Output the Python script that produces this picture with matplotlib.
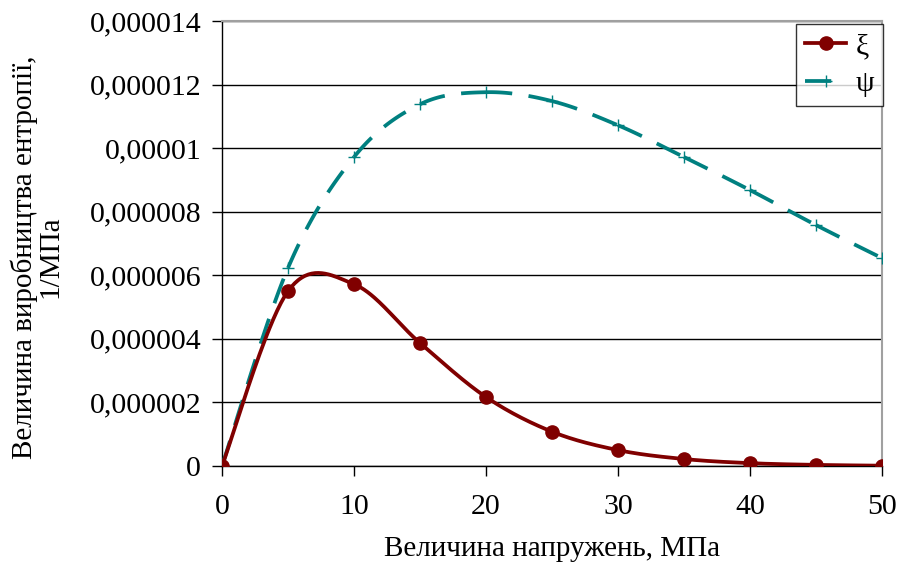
import numpy as np
import matplotlib
matplotlib.use('Agg')
import matplotlib.pyplot as plt
from matplotlib.ticker import FuncFormatter, MultipleLocator

plt.rcParams['font.family'] = ['Liberation Serif', 'DejaVu Serif']

stress = [0, 5, 10, 15, 20, 25, 30, 35, 40, 45, 50]
xi = [0, 5.50e-6, 5.72e-6, 3.87e-6, 2.17e-6, 1.08e-6, 0.50e-6, 0.22e-6, 0.09e-6, 0.035e-6, 0.01e-6]
psi = [0, 6.23e-6, 9.72e-6, 11.38e-6, 11.76e-6, 11.48e-6, 10.72e-6, 9.72e-6, 8.68e-6, 7.58e-6, 6.54e-6]


def smooth_segments(x, y, n=40):
    # Excel-like smoothed line (Catmull-Rom as cubic Bezier), one piece per interval
    p = np.column_stack([x, y]).astype(float)
    p = np.vstack([p[0], p, p[-1]])
    segs = []
    t = np.linspace(0, 1, n)[:, None]
    for i in range(1, len(p) - 2):
        p0, p1, p2, p3 = p[i - 1], p[i], p[i + 1], p[i + 2]
        c1 = p1 + (p2 - p0) / 6
        c2 = p2 - (p3 - p1) / 6
        seg = ((1 - t) ** 3) * p1 + 3 * ((1 - t) ** 2) * t * c1 + 3 * (1 - t) * t ** 2 * c2 + t ** 3 * p2
        segs.append(seg)
    return segs


fig = plt.figure(figsize=(8.97, 5.76), dpi=100)
ax = fig.add_axes([222 / 897, 1 - 466 / 576, 660 / 897, 445 / 576])

red = '#800000'
teal = '#008080'
fs = 21.5
lfs = 21
lw = 2.7
dash = (7.0, 4.4)

# Excel restarts the dash pattern at every data point
for seg in smooth_segments(stress, psi):
    ax.plot(seg[:, 0], seg[:, 1], color=teal, lw=lw, dashes=dash,
            dash_capstyle='butt', zorder=3)
ax.plot(stress, psi, ls='none', marker='+', ms=9, mew=1.0, color=teal, zorder=4)

segs = smooth_segments(stress, xi)
cx = np.concatenate([s[:, 0] for s in segs])
cy = np.concatenate([s[:, 1] for s in segs])
ax.plot(cx, cy, color=red, lw=lw, zorder=3)
ax.plot(stress, xi, ls='none', marker='o', ms=9.5, color=red, zorder=4)

ax.set_xlim(0, 50)
ax.set_ylim(0, 0.000014)
ax.xaxis.set_major_locator(MultipleLocator(10))
ax.yaxis.set_major_locator(MultipleLocator(0.000002))


def fmt(v, pos):
    if abs(v) < 1e-12:
        return '0'
    s = ('%.6f' % v).rstrip('0').rstrip('.')
    return s.replace('.', ',')


ax.yaxis.set_major_formatter(FuncFormatter(fmt))
ax.grid(axis='y', color='black', lw=1)
ax.set_axisbelow(True)
for s in ['top', 'right']:
    ax.spines[s].set_color('#a0a0a0')
    ax.spines[s].set_linewidth(1.5)
for s in ['left', 'bottom']:
    ax.spines[s].set_color('black')
    ax.spines[s].set_linewidth(1)
ax.tick_params(labelsize=fs, length=7, width=1, direction='out')
ax.tick_params(axis='x', pad=13)
ax.tick_params(axis='y', pad=8)
ax.set_xlabel('Величина напружень, МПа', fontsize=lfs, labelpad=12)
ax.set_ylabel('Величина виробництва ентропії,\n1/МПа', fontsize=lfs,
              linespacing=1.0)
ax.yaxis.set_label_coords(-0.24, 0.47)

hl = [plt.Line2D([], [], color=red, lw=lw, marker='o', ms=9.5),
      plt.Line2D([], [], color=teal, lw=lw, dashes=dash, marker='+', ms=9, mew=1.0)]
leg = fig.legend(hl, ['ξ', 'ψ'], loc='upper right', bbox_to_anchor=(883 / 897, 1 - 24 / 576),
                 fontsize=fs, frameon=True, fancybox=False, edgecolor='black',
                 handlelength=1.4, handletextpad=0.3, borderpad=0.3, labelspacing=0.35,
                 borderaxespad=0)
leg.get_frame().set_linewidth(1)

fig.savefig('out.png', dpi=100)
